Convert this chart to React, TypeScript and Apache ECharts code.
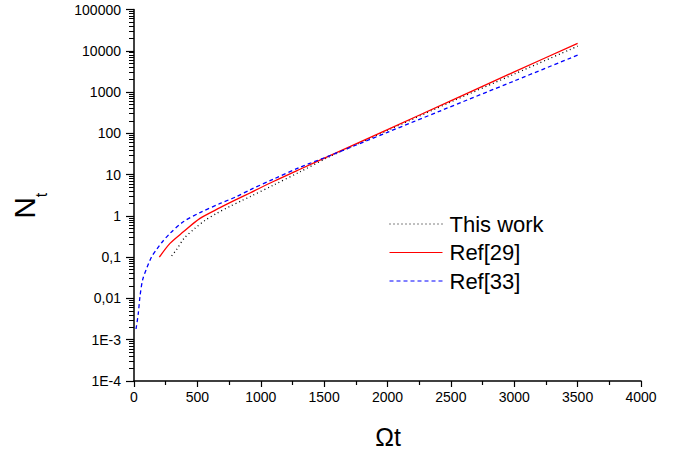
import React, { useEffect, useRef } from "react";
import * as echarts from "echarts";

// Ωt values and N_t values
const thisWorkT = [297, 337, 395, 481, 560, 652, 757, 850, 915, 1100, 1310, 1546, 2000, 2519, 3000, 3500];
const thisWorkN = [0.107, 0.155, 0.285, 0.5, 0.776, 1.15, 1.7, 2.34, 2.92, 5.56, 11.7, 27.5, 117, 612, 2730, 12900];

const ref29T = [200, 284, 389, 521, 679, 810, 915, 1100, 1310, 1546, 2000, 2507, 3000, 3500];
const ref29N = [0.1, 0.216, 0.41, 0.87, 1.58, 2.51, 3.59, 6.8, 13.5, 28.8, 123, 631, 3090, 15100];

const ref33T = [16, 34, 47, 68, 100, 139, 179, 218, 284, 389, 521, 680, 810, 915, 1100, 1310, 1546, 2000, 2414, 3000, 3500];
const ref33N = [0.00182, 0.00437, 0.011, 0.0282, 0.0537, 0.102, 0.155, 0.224, 0.377, 0.72, 1.2, 2.0, 2.95, 4.27, 7.76, 15.1, 28.8, 106, 347, 1860, 7820];

const seriesNames = ["This work", "Ref[29]", "Ref[33]"];

const yTickLabels: Record<string, string> = {
  "-4": "1E-4",
  "-3": "1E-3",
  "-2": "0,01",
  "-1": "0,1",
  "0": "1",
  "1": "10",
  "2": "100",
  "3": "1000",
  "4": "10000",
  "5": "100000",
};

const minorValues: number[] = [];
for (let e = -4; e < 5; e++) {
  for (let m = 2; m <= 9; m++) minorValues.push(m * Math.pow(10, e));
}

const FONT = "'Liberation Sans', Arial, sans-serif";

const zip = (a: number[], b: number[]) => a.map((v, i) => [v, b[i]]);

export default function App() {
  const ref = useRef<HTMLDivElement>(null);
  useEffect(() => {
    if (!ref.current) return;
    const chart = echarts.init(ref.current, undefined, { renderer: "svg" });
    chart.setOption({
      animation: false,
      backgroundColor: "#ffffff",
      grid: { left: 134, right: 39, top: 9.5, bottom: 71, containLabel: false },
      xAxis: {
        type: "value",
        min: 0,
        max: 4000,
        interval: 500,
        axisLine: { show: true, lineStyle: { color: "#000", width: 1.5 } },
        axisTick: { show: true, length: 6, lineStyle: { color: "#000", width: 1.2 } },
        minorTick: { show: true, splitNumber: 2, length: 4, lineStyle: { color: "#000", width: 1.2 } },
        splitLine: { show: false },
        axisLabel: {
          color: "#000",
          fontSize: 14,
          fontFamily: FONT,
          margin: 9,
          formatter: (v: number) => String(v),
        },
      },
      yAxis: [
        {
          type: "log",
          logBase: 10,
          min: 1e-4,
          max: 1e5,
          interval: 1,
          splitNumber: 9,
          axisLine: { show: true, lineStyle: { color: "#000", width: 1.5 } },
          axisTick: { show: true, length: 8, lineStyle: { color: "#000", width: 1.2 } },
          splitLine: { show: false },
          axisLabel: {
            color: "#000",
            fontSize: 14,
            fontFamily: FONT,
            margin: 13,
            formatter: (v: number) => {
              const e = Math.round(Math.log10(v));
              return yTickLabels[String(e)] ?? String(v);
            },
          },
        },
        {
          type: "log",
          logBase: 10,
          min: 1e-4,
          max: 1e5,
          position: "left",
          offset: 0,
          axisLine: { show: false },
          axisLabel: { show: false },
          splitLine: { show: false },
          axisTick: {
            show: true,
            length: 5,
            customValues: minorValues,
            lineStyle: { color: "#000", width: 1 },
          },
        },
      ],
      legend: {
        orient: "vertical",
        left: 384,
        top: 208,
        itemWidth: 53,
        itemHeight: 14,
        itemGap: 6.5,
        data: seriesNames,
        itemStyle: { opacity: 0 },
        lineStyle: { width: 1 },
        textStyle: { color: "#000", fontSize: 22, fontFamily: FONT, lineHeight: 22, padding: [0, 0, 0, 2] },
      },
      series: [
        {
          name: seriesNames[0],
          type: "line",
          data: zip(thisWorkT, thisWorkN),
          symbol: "none",
          smooth: 0.3,
          lineStyle: { color: "#000", width: 1.3, type: [1, 3] },
          itemStyle: { color: "#000" },
        },
        {
          name: seriesNames[1],
          type: "line",
          data: zip(ref29T, ref29N),
          symbol: "none",
          smooth: 0.3,
          lineStyle: { color: "#ff0000", width: 1.3, type: "solid" },
          itemStyle: { color: "#ff0000" },
        },
        {
          name: seriesNames[2],
          type: "line",
          data: zip(ref33T, ref33N),
          symbol: "none",
          smooth: 0.3,
          lineStyle: { color: "#0000ff", width: 1.3, type: [4, 3] },
          itemStyle: { color: "#0000ff" },
        },
      ],
      graphic: [
        {
          type: "text",
          x: 388,
          y: 437,
          style: {
            text: "Ωt",
            fontSize: 25,
            fontFamily: FONT,
            fill: "#000",
            align: "center",
            verticalAlign: "middle",
            textAlign: "center",
            textVerticalAlign: "middle",
          },
        },
        {
          type: "text",
          x: 24,
          y: 208,
          rotation: Math.PI / 2,
          style: {
            text: "N",
            fontSize: 30,
            fontFamily: FONT,
            fill: "#000",
            align: "center",
            verticalAlign: "middle",
            textAlign: "center",
            textVerticalAlign: "middle",
          },
        },
        {
          type: "text",
          x: 41.5,
          y: 195,
          rotation: Math.PI / 2,
          style: {
            text: "t",
            fontSize: 16,
            fontFamily: FONT,
            fill: "#000",
            align: "center",
            verticalAlign: "middle",
            textAlign: "center",
            textVerticalAlign: "middle",
          },
        },
      ],
    });
    return () => chart.dispose();
  }, []);
  return (
    <div
      ref={ref}
      style={{ position: "absolute", left: 0, top: 0, width: 680, height: 452, background: "#fff" }}
    />
  );
}
